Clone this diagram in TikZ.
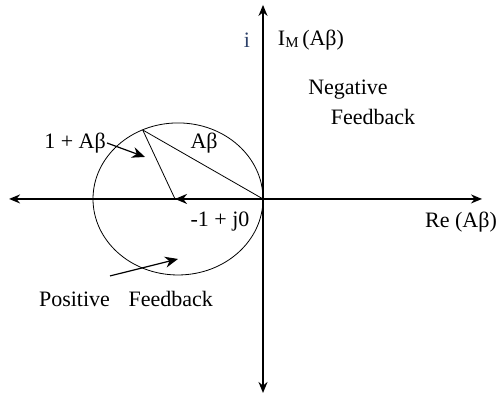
\documentclass[tikz,border=0pt]{standalone}
\usepackage{fontspec}
\setmainfont{Liberation Serif}
\usetikzlibrary{arrows.meta}
\definecolor{igrey}{RGB}{45,65,105}
\begin{document}
\begin{tikzpicture}[x=88pt,y=88pt,
		axis/.style={line width=1.6pt,{Stealth[length=11pt,width=9pt]}-{Stealth[length=11pt,width=9pt]}},
		lbl/.style={font=\fontsize{22}{25}\selectfont,inner sep=1pt},
		pointer/.style={line width=1.2pt,-{Stealth[length=13pt,width=11pt]}}]
	\useasboundingbox (-2.989,-2.239) rectangle (2.682,2.261);
	% axes
	\coordinate (O) at (0,0);
	\coordinate (reL) at (-2.886,0);
	\coordinate (reR) at (2.489,0);
	\coordinate (imT) at (0,2.205);
	\coordinate (imB) at (0,-2.205);
	\draw[axis] (reL) -- (reR);
	\draw[axis] (imB) -- (imT);
	% Nyquist circle
	\draw[line width=0.8pt] (-0.966,0) ellipse (0.966 and 0.864);
	\coordinate (P) at (-1.367,0.784);
	\coordinate (M) at (-1,0);
	\draw[line width=0.8pt] (P) -- (O);
	\draw[line width=0.8pt] (P) -- (M);
	\draw[line width=2.2pt,-{Stealth[length=12pt,width=10pt]}] (O) -- (M);
	% labels
	\node[lbl] (onelbl) at (-2.136,0.636) {1 + Aβ};
	\node[lbl] (ablbl) at (-0.670,0.636) {Aβ};
	\node[lbl] (mlbl) at (-0.489,-0.261) {-1 + j0};
	\node[lbl] (relbl) at (2.25,-0.261) {Re (Aβ)};
	\node[lbl] (poslbl) at (-1.557,-1.136) {Positive\hspace{0.6em} Feedback};
	\node[lbl,text=igrey] (ilbl) at (-0.182,1.807) {i};
	\node[lbl] (imlbl) at (0.545,1.807) {I\raisebox{-0.25ex}{\fontsize{15}{15}\selectfont M}\,(Aβ)};
	\node[lbl] (neglbl) at (0.966,1.239) {Negative};
	\node[lbl] (fblbl) at (1.25,0.932) {Feedback};
	% pointers
	\coordinate (oneend) at (-1.341,0.477);
	\coordinate (posstart) at (-1.739,-0.875);
	\coordinate (posend) at (-0.966,-0.682);
	\draw[pointer] (onelbl.east) -- (oneend);
	\draw[pointer] (posstart) -- (posend);
\end{tikzpicture}
\end{document}
